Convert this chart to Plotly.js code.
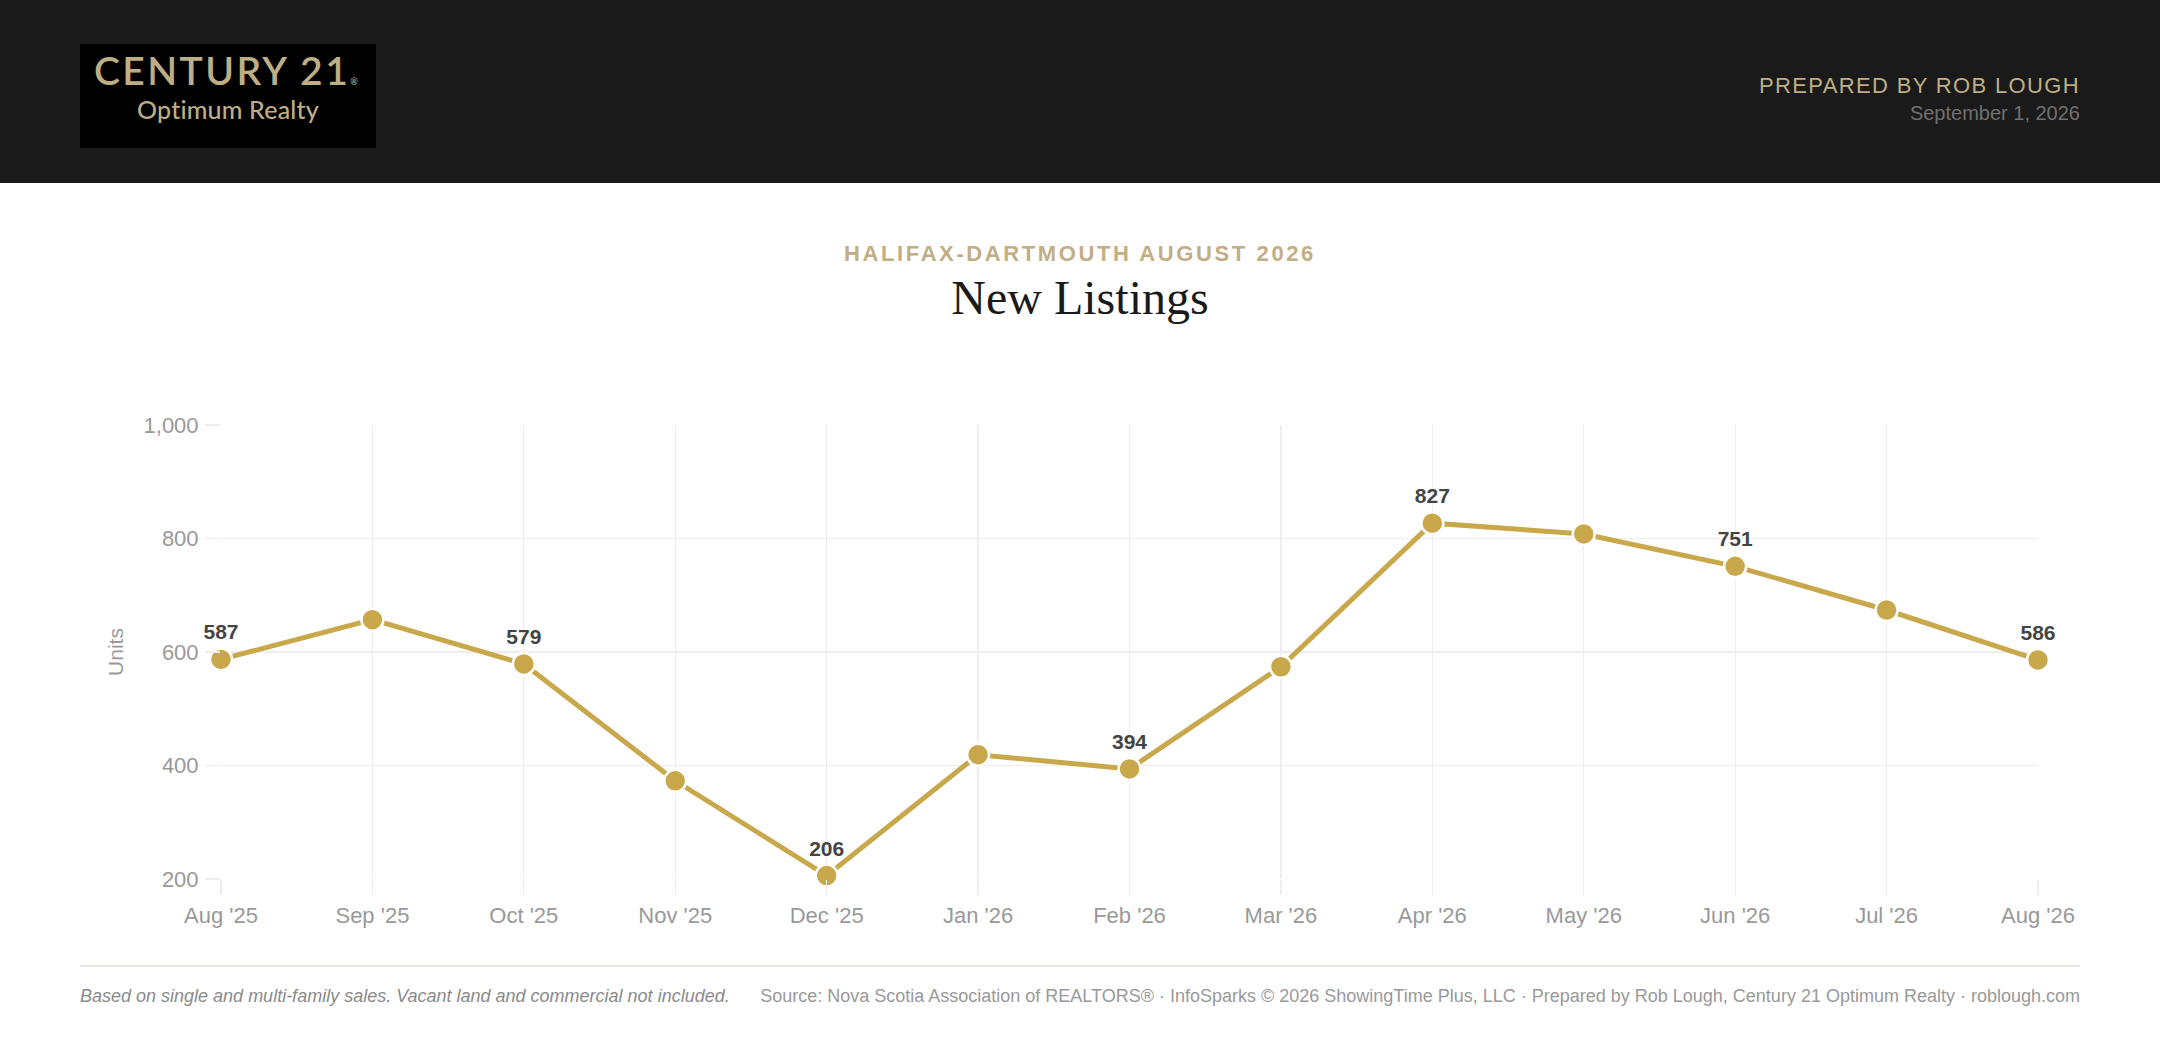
<!DOCTYPE html>
<html>
<head>
<meta charset="utf-8">
<script src="https://cdn.plot.ly/plotly-3.0.1.min.js"></script>
<style>
  html, body { margin:0; padding:0; width:2160px; height:1048px; background:#ffffff; overflow:hidden; font-family:"Liberation Sans", Arial, sans-serif; }
  #header { position:absolute; left:0; top:0; width:2160px; height:183px; background:#1a1a1a; }
  #logo { position:absolute; left:80px; top:44px; width:296px; height:104px; background:#000; }
  #logo .c21 { position:absolute; left:14px; top:3px; font-family:"Lato", sans-serif; font-weight:600; font-size:39px; letter-spacing:2.4px; color:#beae86; white-space:nowrap; }
  #logo .c21 sup { font-size:9px; letter-spacing:0; vertical-align:0; position:relative; top:0px; }
  #logo .opt { position:absolute; left:0; width:296px; top:50px; text-align:center; font-family:"Lato", sans-serif; font-weight:500; font-size:25px; color:#beae86; letter-spacing:0.2px; }
  #prep { position:absolute; right:80px; top:73px; font-size:22px; letter-spacing:1.35px; color:#bfae85; white-space:nowrap; }
  #date { position:absolute; right:80px; top:102px; font-size:20px; color:#707070; white-space:nowrap; }
  #sub { position:absolute; left:0; width:2160px; top:241px; text-align:center; font-weight:700; font-size:22px; letter-spacing:2.6px; color:#c2ae84; }
  #ttl { position:absolute; left:0; width:2160px; top:270px; text-align:center; font-family:"Liberation Serif", "DejaVu Serif", serif; font-size:48px; color:#1a1a1a; }
  #chart { position:absolute; left:0; top:0; width:2160px; height:1048px; }
  #rule { position:absolute; left:80px; width:2000px; top:965px; height:2px; background:#ebe6dc; }
  #fl { position:absolute; left:80px; top:986px; font-size:18px; font-style:italic; color:#8a8a8a; white-space:nowrap; }
  #fr { position:absolute; right:80px; top:986px; font-size:18px; color:#999999; white-space:nowrap; }
</style>
</head>
<body>
<div id="header">
  <div id="logo"><div class="c21">CENTURY 21<sup>®</sup></div><div class="opt">Optimum Realty</div></div>
  <div id="prep">PREPARED BY ROB LOUGH</div>
  <div id="date">September 1, 2026</div>
</div>
<div id="sub">HALIFAX-DARTMOUTH AUGUST 2026</div>
<div id="ttl">New Listings</div>
<div id="chart"></div>
<div id="rule"></div>
<div id="fl">Based on single and multi-family sales. Vacant land and commercial not included.</div>
<div id="fr">Source: Nova Scotia Association of REALTORS® · InfoSparks © 2026 ShowingTime Plus, LLC · Prepared by Rob Lough, Century 21 Optimum Realty · roblough.com</div>
<script>
const months = ["Aug '25","Sep '25","Oct '25","Nov '25","Dec '25","Jan '26","Feb '26","Mar '26","Apr '26","May '26","Jun '26","Jul '26","Aug '26"];
const newListings = [587, 657, 579, 373, 206, 419, 394, 574, 827, 808, 751, 674, 586];
const yTicks = [200, 400, 600, 800, 1000];

const gold = '#c9a84c';
const labels = newListings.map((v, i) => (i % 2 === 0 ? String(v) : ''));

const trace = {
  x: months,
  y: newListings,
  type: 'scatter',
  mode: 'lines+markers+text',
  text: labels,
  textposition: 'top center',
  textfont: { family: '"Liberation Sans", Arial, sans-serif', size: 21, weight: 700, color: '#444444' },
  line: { color: gold, width: 5 },
  marker: { color: gold, size: 22, line: { color: '#ffffff', width: 2.5 } },
  cliponaxis: false,
  hoverinfo: 'none'
};

const layout = {
  width: 2160,
  height: 1048,
  paper_bgcolor: 'rgba(0,0,0,0)',
  plot_bgcolor: 'rgba(0,0,0,0)',
  margin: { l: 221, r: 122, t: 425, b: 169, pad: 0 },
  showlegend: false,
  font: { family: '"Liberation Sans", Arial, sans-serif', color: '#999999' },
  xaxis: {
    type: 'category',
    range: [0, months.length - 1],
    showgrid: true,
    gridcolor: '#eeeeee',
    gridwidth: 1.2,
    zeroline: false,
    showline: false,
    ticks: 'outside',
    ticklen: 15,
    tickwidth: 1.2,
    tickcolor: '#eeeeee',
    ticklabelstandoff: 2,
    tickfont: { size: 22, color: '#999999' },
    fixedrange: true
  },
  yaxis: {
    range: [200, 1000],
    tickvals: yTicks,
    tickformat: ',d',
    showgrid: true,
    gridcolor: '#eeeeee',
    gridwidth: 1.2,
    zeroline: false,
    showline: false,
    ticks: 'outside',
    ticklen: 15,
    tickwidth: 1.2,
    tickcolor: '#eeeeee',
    ticklabelstandoff: 2,
    tickfont: { size: 22, color: '#999999' },
    title: { text: 'Units', font: { size: 21, color: '#999999' }, standoff: 14 },
    fixedrange: true
  }
};

Plotly.newPlot('chart', [trace], layout, { displayModeBar: false, staticPlot: true });
</script>
</body>
</html>
